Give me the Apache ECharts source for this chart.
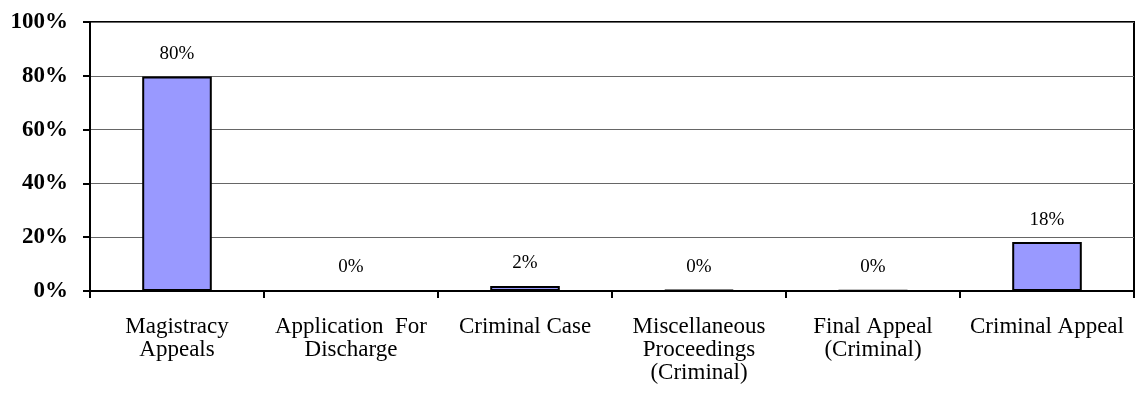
<!DOCTYPE html>
<html><head><meta charset="utf-8">
<script src="https://cdn.jsdelivr.net/npm/echarts@6/dist/echarts.min.js"></script>
<style>html,body{margin:0;padding:0;background:#fff}#c{width:1143px;height:402px}</style>
</head><body><div id="c"></div>
<script>
const categories = ["Magistracy\nAppeals","Application  For\nDischarge","Criminal Case","Miscellaneous\nProceedings\n(Criminal)","Final Appeal\n(Criminal)","Criminal Appeal"];
const values = [79.7, 0, 1.9, 0.4, 0.2, 18.2];
const yTicks = [0, 20, 40, 60, 80, 100];
const font = "'Liberation Serif','Times New Roman',serif";
const chart = echarts.init(document.getElementById('c'));
chart.setOption({
  animation:false,
  grid:{left:90,right:9,top:22,bottom:111,show:true,borderColor:'#000',borderWidth:2,backgroundColor:'transparent'},
  xAxis:{type:'category',data:categories,
    axisLine:{lineStyle:{color:'#000',width:2}},
    axisTick:{show:true,length:7,lineStyle:{color:'#000',width:2},alignWithLabel:false},
    axisLabel:{color:'#000',fontFamily:font,fontSize:23,lineHeight:23,margin:24,interval:0}},
  yAxis:{type:'value',min:0,max:100,interval:20,
    axisLine:{show:true,lineStyle:{color:'#000',width:2}},
    axisTick:{show:true,length:7,lineStyle:{color:'#000',width:2}},
    splitLine:{lineStyle:{color:'#666',width:1}},
    axisLabel:{color:'#000',fontFamily:font,fontSize:23,fontWeight:'bold',margin:22,
      formatter:v=>yTicks.includes(v)?v+'%':''}},
  series:[{type:'bar',data:values,barWidth:'40%',
    itemStyle:{color:'#9999FF',borderColor:'#000',borderWidth:2},
    label:{show:true,position:'top',distance:13,color:'#000',fontFamily:font,fontSize:19,
      formatter:p=>Math.round(p.value)+'%'}}]
});
</script></body></html>
